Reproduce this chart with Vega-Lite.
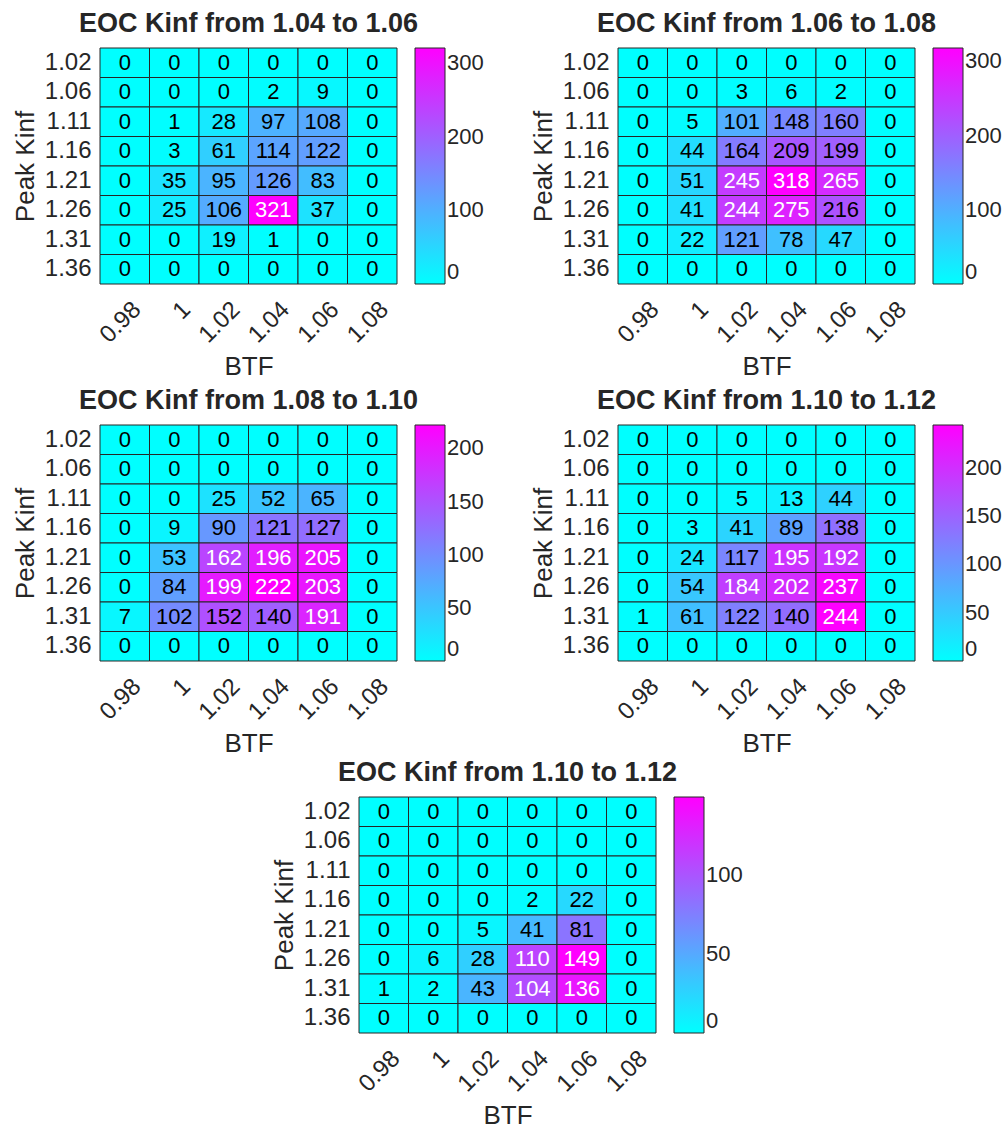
{
  "$schema": "https://vega.github.io/schema/vega-lite/v6.json",
  "padding": {"left": 12, "top": 9, "right": 0, "bottom": 0},
  "background": "white",
  "config": {
    "view": {"stroke": null},
    "scale": {"bandPaddingInner": 0, "bandPaddingOuter": 0},
    "axis": {"domain": false, "ticks": false, "labelFont": "Liberation Sans", "labelFontSize": 24, "labelColor": "#262626", "titleFont": "Liberation Sans", "titleFontSize": 26, "titleFontWeight": "normal", "titleColor": "#262626"},
    "axisX": {"labelAngle": -45, "labelAlign": "right", "labelBaseline": "top", "labelPadding": 13, "labelOffset": 4, "titlePadding": 6},
    "axisY": {"labelPadding": 9, "titlePadding": 6},
    "legend": {"gradientLength": 236, "gradientThickness": 30, "gradientStrokeColor": "#262626", "gradientStrokeWidth": 1, "labelFont": "Liberation Sans", "labelFontSize": 22, "labelColor": "#262626", "offset": 18, "labelOffset": 12, "labelBaseline": "middle", "title": null},
    "title": {"font": "Liberation Sans", "fontSize": 27, "fontWeight": "bold", "color": "#262626", "anchor": "middle", "frame": "group", "offset": 10}
  },
  "data": {"values": [
    {"p":1,"k":"1.02","btf":"0.98","v":0},{"p":1,"k":"1.02","btf":"1","v":0},{"p":1,"k":"1.02","btf":"1.02","v":0},{"p":1,"k":"1.02","btf":"1.04","v":0},{"p":1,"k":"1.02","btf":"1.06","v":0},{"p":1,"k":"1.02","btf":"1.08","v":0},
    {"p":1,"k":"1.06","btf":"0.98","v":0},{"p":1,"k":"1.06","btf":"1","v":0},{"p":1,"k":"1.06","btf":"1.02","v":0},{"p":1,"k":"1.06","btf":"1.04","v":2},{"p":1,"k":"1.06","btf":"1.06","v":9},{"p":1,"k":"1.06","btf":"1.08","v":0},
    {"p":1,"k":"1.11","btf":"0.98","v":0},{"p":1,"k":"1.11","btf":"1","v":1},{"p":1,"k":"1.11","btf":"1.02","v":28},{"p":1,"k":"1.11","btf":"1.04","v":97},{"p":1,"k":"1.11","btf":"1.06","v":108},{"p":1,"k":"1.11","btf":"1.08","v":0},
    {"p":1,"k":"1.16","btf":"0.98","v":0},{"p":1,"k":"1.16","btf":"1","v":3},{"p":1,"k":"1.16","btf":"1.02","v":61},{"p":1,"k":"1.16","btf":"1.04","v":114},{"p":1,"k":"1.16","btf":"1.06","v":122},{"p":1,"k":"1.16","btf":"1.08","v":0},
    {"p":1,"k":"1.21","btf":"0.98","v":0},{"p":1,"k":"1.21","btf":"1","v":35},{"p":1,"k":"1.21","btf":"1.02","v":95},{"p":1,"k":"1.21","btf":"1.04","v":126},{"p":1,"k":"1.21","btf":"1.06","v":83},{"p":1,"k":"1.21","btf":"1.08","v":0},
    {"p":1,"k":"1.26","btf":"0.98","v":0},{"p":1,"k":"1.26","btf":"1","v":25},{"p":1,"k":"1.26","btf":"1.02","v":106},{"p":1,"k":"1.26","btf":"1.04","v":321},{"p":1,"k":"1.26","btf":"1.06","v":37},{"p":1,"k":"1.26","btf":"1.08","v":0},
    {"p":1,"k":"1.31","btf":"0.98","v":0},{"p":1,"k":"1.31","btf":"1","v":0},{"p":1,"k":"1.31","btf":"1.02","v":19},{"p":1,"k":"1.31","btf":"1.04","v":1},{"p":1,"k":"1.31","btf":"1.06","v":0},{"p":1,"k":"1.31","btf":"1.08","v":0},
    {"p":1,"k":"1.36","btf":"0.98","v":0},{"p":1,"k":"1.36","btf":"1","v":0},{"p":1,"k":"1.36","btf":"1.02","v":0},{"p":1,"k":"1.36","btf":"1.04","v":0},{"p":1,"k":"1.36","btf":"1.06","v":0},{"p":1,"k":"1.36","btf":"1.08","v":0},

    {"p":2,"k":"1.02","btf":"0.98","v":0},{"p":2,"k":"1.02","btf":"1","v":0},{"p":2,"k":"1.02","btf":"1.02","v":0},{"p":2,"k":"1.02","btf":"1.04","v":0},{"p":2,"k":"1.02","btf":"1.06","v":0},{"p":2,"k":"1.02","btf":"1.08","v":0},
    {"p":2,"k":"1.06","btf":"0.98","v":0},{"p":2,"k":"1.06","btf":"1","v":0},{"p":2,"k":"1.06","btf":"1.02","v":3},{"p":2,"k":"1.06","btf":"1.04","v":6},{"p":2,"k":"1.06","btf":"1.06","v":2},{"p":2,"k":"1.06","btf":"1.08","v":0},
    {"p":2,"k":"1.11","btf":"0.98","v":0},{"p":2,"k":"1.11","btf":"1","v":5},{"p":2,"k":"1.11","btf":"1.02","v":101},{"p":2,"k":"1.11","btf":"1.04","v":148},{"p":2,"k":"1.11","btf":"1.06","v":160},{"p":2,"k":"1.11","btf":"1.08","v":0},
    {"p":2,"k":"1.16","btf":"0.98","v":0},{"p":2,"k":"1.16","btf":"1","v":44},{"p":2,"k":"1.16","btf":"1.02","v":164},{"p":2,"k":"1.16","btf":"1.04","v":209},{"p":2,"k":"1.16","btf":"1.06","v":199},{"p":2,"k":"1.16","btf":"1.08","v":0},
    {"p":2,"k":"1.21","btf":"0.98","v":0},{"p":2,"k":"1.21","btf":"1","v":51},{"p":2,"k":"1.21","btf":"1.02","v":245},{"p":2,"k":"1.21","btf":"1.04","v":318},{"p":2,"k":"1.21","btf":"1.06","v":265},{"p":2,"k":"1.21","btf":"1.08","v":0},
    {"p":2,"k":"1.26","btf":"0.98","v":0},{"p":2,"k":"1.26","btf":"1","v":41},{"p":2,"k":"1.26","btf":"1.02","v":244},{"p":2,"k":"1.26","btf":"1.04","v":275},{"p":2,"k":"1.26","btf":"1.06","v":216},{"p":2,"k":"1.26","btf":"1.08","v":0},
    {"p":2,"k":"1.31","btf":"0.98","v":0},{"p":2,"k":"1.31","btf":"1","v":22},{"p":2,"k":"1.31","btf":"1.02","v":121},{"p":2,"k":"1.31","btf":"1.04","v":78},{"p":2,"k":"1.31","btf":"1.06","v":47},{"p":2,"k":"1.31","btf":"1.08","v":0},
    {"p":2,"k":"1.36","btf":"0.98","v":0},{"p":2,"k":"1.36","btf":"1","v":0},{"p":2,"k":"1.36","btf":"1.02","v":0},{"p":2,"k":"1.36","btf":"1.04","v":0},{"p":2,"k":"1.36","btf":"1.06","v":0},{"p":2,"k":"1.36","btf":"1.08","v":0},

    {"p":3,"k":"1.02","btf":"0.98","v":0},{"p":3,"k":"1.02","btf":"1","v":0},{"p":3,"k":"1.02","btf":"1.02","v":0},{"p":3,"k":"1.02","btf":"1.04","v":0},{"p":3,"k":"1.02","btf":"1.06","v":0},{"p":3,"k":"1.02","btf":"1.08","v":0},
    {"p":3,"k":"1.06","btf":"0.98","v":0},{"p":3,"k":"1.06","btf":"1","v":0},{"p":3,"k":"1.06","btf":"1.02","v":0},{"p":3,"k":"1.06","btf":"1.04","v":0},{"p":3,"k":"1.06","btf":"1.06","v":0},{"p":3,"k":"1.06","btf":"1.08","v":0},
    {"p":3,"k":"1.11","btf":"0.98","v":0},{"p":3,"k":"1.11","btf":"1","v":0},{"p":3,"k":"1.11","btf":"1.02","v":25},{"p":3,"k":"1.11","btf":"1.04","v":52},{"p":3,"k":"1.11","btf":"1.06","v":65},{"p":3,"k":"1.11","btf":"1.08","v":0},
    {"p":3,"k":"1.16","btf":"0.98","v":0},{"p":3,"k":"1.16","btf":"1","v":9},{"p":3,"k":"1.16","btf":"1.02","v":90},{"p":3,"k":"1.16","btf":"1.04","v":121},{"p":3,"k":"1.16","btf":"1.06","v":127},{"p":3,"k":"1.16","btf":"1.08","v":0},
    {"p":3,"k":"1.21","btf":"0.98","v":0},{"p":3,"k":"1.21","btf":"1","v":53},{"p":3,"k":"1.21","btf":"1.02","v":162},{"p":3,"k":"1.21","btf":"1.04","v":196},{"p":3,"k":"1.21","btf":"1.06","v":205},{"p":3,"k":"1.21","btf":"1.08","v":0},
    {"p":3,"k":"1.26","btf":"0.98","v":0},{"p":3,"k":"1.26","btf":"1","v":84},{"p":3,"k":"1.26","btf":"1.02","v":199},{"p":3,"k":"1.26","btf":"1.04","v":222},{"p":3,"k":"1.26","btf":"1.06","v":203},{"p":3,"k":"1.26","btf":"1.08","v":0},
    {"p":3,"k":"1.31","btf":"0.98","v":7},{"p":3,"k":"1.31","btf":"1","v":102},{"p":3,"k":"1.31","btf":"1.02","v":152},{"p":3,"k":"1.31","btf":"1.04","v":140},{"p":3,"k":"1.31","btf":"1.06","v":191},{"p":3,"k":"1.31","btf":"1.08","v":0},
    {"p":3,"k":"1.36","btf":"0.98","v":0},{"p":3,"k":"1.36","btf":"1","v":0},{"p":3,"k":"1.36","btf":"1.02","v":0},{"p":3,"k":"1.36","btf":"1.04","v":0},{"p":3,"k":"1.36","btf":"1.06","v":0},{"p":3,"k":"1.36","btf":"1.08","v":0},

    {"p":4,"k":"1.02","btf":"0.98","v":0},{"p":4,"k":"1.02","btf":"1","v":0},{"p":4,"k":"1.02","btf":"1.02","v":0},{"p":4,"k":"1.02","btf":"1.04","v":0},{"p":4,"k":"1.02","btf":"1.06","v":0},{"p":4,"k":"1.02","btf":"1.08","v":0},
    {"p":4,"k":"1.06","btf":"0.98","v":0},{"p":4,"k":"1.06","btf":"1","v":0},{"p":4,"k":"1.06","btf":"1.02","v":0},{"p":4,"k":"1.06","btf":"1.04","v":0},{"p":4,"k":"1.06","btf":"1.06","v":0},{"p":4,"k":"1.06","btf":"1.08","v":0},
    {"p":4,"k":"1.11","btf":"0.98","v":0},{"p":4,"k":"1.11","btf":"1","v":0},{"p":4,"k":"1.11","btf":"1.02","v":5},{"p":4,"k":"1.11","btf":"1.04","v":13},{"p":4,"k":"1.11","btf":"1.06","v":44},{"p":4,"k":"1.11","btf":"1.08","v":0},
    {"p":4,"k":"1.16","btf":"0.98","v":0},{"p":4,"k":"1.16","btf":"1","v":3},{"p":4,"k":"1.16","btf":"1.02","v":41},{"p":4,"k":"1.16","btf":"1.04","v":89},{"p":4,"k":"1.16","btf":"1.06","v":138},{"p":4,"k":"1.16","btf":"1.08","v":0},
    {"p":4,"k":"1.21","btf":"0.98","v":0},{"p":4,"k":"1.21","btf":"1","v":24},{"p":4,"k":"1.21","btf":"1.02","v":117},{"p":4,"k":"1.21","btf":"1.04","v":195},{"p":4,"k":"1.21","btf":"1.06","v":192},{"p":4,"k":"1.21","btf":"1.08","v":0},
    {"p":4,"k":"1.26","btf":"0.98","v":0},{"p":4,"k":"1.26","btf":"1","v":54},{"p":4,"k":"1.26","btf":"1.02","v":184},{"p":4,"k":"1.26","btf":"1.04","v":202},{"p":4,"k":"1.26","btf":"1.06","v":237},{"p":4,"k":"1.26","btf":"1.08","v":0},
    {"p":4,"k":"1.31","btf":"0.98","v":1},{"p":4,"k":"1.31","btf":"1","v":61},{"p":4,"k":"1.31","btf":"1.02","v":122},{"p":4,"k":"1.31","btf":"1.04","v":140},{"p":4,"k":"1.31","btf":"1.06","v":244},{"p":4,"k":"1.31","btf":"1.08","v":0},
    {"p":4,"k":"1.36","btf":"0.98","v":0},{"p":4,"k":"1.36","btf":"1","v":0},{"p":4,"k":"1.36","btf":"1.02","v":0},{"p":4,"k":"1.36","btf":"1.04","v":0},{"p":4,"k":"1.36","btf":"1.06","v":0},{"p":4,"k":"1.36","btf":"1.08","v":0},

    {"p":5,"k":"1.02","btf":"0.98","v":0},{"p":5,"k":"1.02","btf":"1","v":0},{"p":5,"k":"1.02","btf":"1.02","v":0},{"p":5,"k":"1.02","btf":"1.04","v":0},{"p":5,"k":"1.02","btf":"1.06","v":0},{"p":5,"k":"1.02","btf":"1.08","v":0},
    {"p":5,"k":"1.06","btf":"0.98","v":0},{"p":5,"k":"1.06","btf":"1","v":0},{"p":5,"k":"1.06","btf":"1.02","v":0},{"p":5,"k":"1.06","btf":"1.04","v":0},{"p":5,"k":"1.06","btf":"1.06","v":0},{"p":5,"k":"1.06","btf":"1.08","v":0},
    {"p":5,"k":"1.11","btf":"0.98","v":0},{"p":5,"k":"1.11","btf":"1","v":0},{"p":5,"k":"1.11","btf":"1.02","v":0},{"p":5,"k":"1.11","btf":"1.04","v":0},{"p":5,"k":"1.11","btf":"1.06","v":0},{"p":5,"k":"1.11","btf":"1.08","v":0},
    {"p":5,"k":"1.16","btf":"0.98","v":0},{"p":5,"k":"1.16","btf":"1","v":0},{"p":5,"k":"1.16","btf":"1.02","v":0},{"p":5,"k":"1.16","btf":"1.04","v":2},{"p":5,"k":"1.16","btf":"1.06","v":22},{"p":5,"k":"1.16","btf":"1.08","v":0},
    {"p":5,"k":"1.21","btf":"0.98","v":0},{"p":5,"k":"1.21","btf":"1","v":0},{"p":5,"k":"1.21","btf":"1.02","v":5},{"p":5,"k":"1.21","btf":"1.04","v":41},{"p":5,"k":"1.21","btf":"1.06","v":81},{"p":5,"k":"1.21","btf":"1.08","v":0},
    {"p":5,"k":"1.26","btf":"0.98","v":0},{"p":5,"k":"1.26","btf":"1","v":6},{"p":5,"k":"1.26","btf":"1.02","v":28},{"p":5,"k":"1.26","btf":"1.04","v":110},{"p":5,"k":"1.26","btf":"1.06","v":149},{"p":5,"k":"1.26","btf":"1.08","v":0},
    {"p":5,"k":"1.31","btf":"0.98","v":1},{"p":5,"k":"1.31","btf":"1","v":2},{"p":5,"k":"1.31","btf":"1.02","v":43},{"p":5,"k":"1.31","btf":"1.04","v":104},{"p":5,"k":"1.31","btf":"1.06","v":136},{"p":5,"k":"1.31","btf":"1.08","v":0},
    {"p":5,"k":"1.36","btf":"0.98","v":0},{"p":5,"k":"1.36","btf":"1","v":0},{"p":5,"k":"1.36","btf":"1.02","v":0},{"p":5,"k":"1.36","btf":"1.04","v":0},{"p":5,"k":"1.36","btf":"1.06","v":0},{"p":5,"k":"1.36","btf":"1.08","v":0}
  ]},
  "spacing": 1,
  "center": true,
  "resolve": {"scale": {"color": "independent"}, "legend": {"color": "independent"}},
  "vconcat": [
    {
      "spacing": 6,
      "resolve": {"scale": {"color": "independent"}, "legend": {"color": "independent"}},
      "vconcat": [
        {
          "spacing": 46,
          "resolve": {"scale": {"color": "independent"}, "legend": {"color": "independent"}},
          "hconcat": [
            {
              "title": "EOC Kinf from 1.04 to 1.06",
              "width": 297, "height": 236,
              "transform": [{"filter": "datum.p == 1"}, {"joinaggregate": [{"op": "max", "field": "v", "as": "mx"}]}],
              "encoding": {
                "x": {"field": "btf", "type": "ordinal", "sort": ["0.98","1","1.02","1.04","1.06","1.08"], "title": "BTF"},
                "y": {"field": "k", "type": "ordinal", "sort": ["1.02","1.06","1.11","1.16","1.21","1.26","1.31","1.36"], "title": "Peak Kinf"}
              },
              "layer": [
                {"mark": {"type": "rect", "stroke": "#262626", "strokeWidth": 1}, "encoding": {"color": {"field": "v", "type": "quantitative", "scale": {"range": ["#00ffff", "#ff00ff"], "interpolate": "rgb", "zero": true, "nice": false}, "legend": {"values": [0, 100, 200, 300]}}}},
                {"mark": {"type": "text", "font": "Liberation Sans", "fontSize": 22}, "encoding": {"text": {"field": "v", "type": "quantitative"}, "color": {"condition": {"test": "datum.v / datum.mx > 0.69", "value": "white"}, "value": "black"}}}
              ]
            },
            {
              "title": "EOC Kinf from 1.06 to 1.08",
              "width": 297, "height": 236,
              "transform": [{"filter": "datum.p == 2"}, {"joinaggregate": [{"op": "max", "field": "v", "as": "mx"}]}],
              "encoding": {
                "x": {"field": "btf", "type": "ordinal", "sort": ["0.98","1","1.02","1.04","1.06","1.08"], "title": "BTF"},
                "y": {"field": "k", "type": "ordinal", "sort": ["1.02","1.06","1.11","1.16","1.21","1.26","1.31","1.36"], "title": "Peak Kinf"}
              },
              "layer": [
                {"mark": {"type": "rect", "stroke": "#262626", "strokeWidth": 1}, "encoding": {"color": {"field": "v", "type": "quantitative", "scale": {"range": ["#00ffff", "#ff00ff"], "interpolate": "rgb", "zero": true, "nice": false}, "legend": {"values": [0, 100, 200, 300]}}}},
                {"mark": {"type": "text", "font": "Liberation Sans", "fontSize": 22}, "encoding": {"text": {"field": "v", "type": "quantitative"}, "color": {"condition": {"test": "datum.v / datum.mx > 0.69", "value": "white"}, "value": "black"}}}
              ]
            }
          ]
        },
        {
          "spacing": 46,
          "resolve": {"scale": {"color": "independent"}, "legend": {"color": "independent"}},
          "hconcat": [
            {
              "title": "EOC Kinf from 1.08 to 1.10",
              "width": 297, "height": 236,
              "transform": [{"filter": "datum.p == 3"}, {"joinaggregate": [{"op": "max", "field": "v", "as": "mx"}]}],
              "encoding": {
                "x": {"field": "btf", "type": "ordinal", "sort": ["0.98","1","1.02","1.04","1.06","1.08"], "title": "BTF"},
                "y": {"field": "k", "type": "ordinal", "sort": ["1.02","1.06","1.11","1.16","1.21","1.26","1.31","1.36"], "title": "Peak Kinf"}
              },
              "layer": [
                {"mark": {"type": "rect", "stroke": "#262626", "strokeWidth": 1}, "encoding": {"color": {"field": "v", "type": "quantitative", "scale": {"range": ["#00ffff", "#ff00ff"], "interpolate": "rgb", "zero": true, "nice": false}, "legend": {"values": [0, 50, 100, 150, 200]}}}},
                {"mark": {"type": "text", "font": "Liberation Sans", "fontSize": 22}, "encoding": {"text": {"field": "v", "type": "quantitative"}, "color": {"condition": {"test": "datum.v / datum.mx > 0.69", "value": "white"}, "value": "black"}}}
              ]
            },
            {
              "title": "EOC Kinf from 1.10 to 1.12",
              "width": 297, "height": 236,
              "transform": [{"filter": "datum.p == 4"}, {"joinaggregate": [{"op": "max", "field": "v", "as": "mx"}]}],
              "encoding": {
                "x": {"field": "btf", "type": "ordinal", "sort": ["0.98","1","1.02","1.04","1.06","1.08"], "title": "BTF"},
                "y": {"field": "k", "type": "ordinal", "sort": ["1.02","1.06","1.11","1.16","1.21","1.26","1.31","1.36"], "title": "Peak Kinf"}
              },
              "layer": [
                {"mark": {"type": "rect", "stroke": "#262626", "strokeWidth": 1}, "encoding": {"color": {"field": "v", "type": "quantitative", "scale": {"range": ["#00ffff", "#ff00ff"], "interpolate": "rgb", "zero": true, "nice": false}, "legend": {"values": [0, 50, 100, 150, 200]}}}},
                {"mark": {"type": "text", "font": "Liberation Sans", "fontSize": 22}, "encoding": {"text": {"field": "v", "type": "quantitative"}, "color": {"condition": {"test": "datum.v / datum.mx > 0.69", "value": "white"}, "value": "black"}}}
              ]
            }
          ]
        }
      ]
    },
    {
      "title": "EOC Kinf from 1.10 to 1.12",
      "width": 297, "height": 236,
      "transform": [{"filter": "datum.p == 5"}, {"joinaggregate": [{"op": "max", "field": "v", "as": "mx"}]}],
      "encoding": {
        "x": {"field": "btf", "type": "ordinal", "sort": ["0.98","1","1.02","1.04","1.06","1.08"], "title": "BTF"},
        "y": {"field": "k", "type": "ordinal", "sort": ["1.02","1.06","1.11","1.16","1.21","1.26","1.31","1.36"], "title": "Peak Kinf"}
      },
      "layer": [
        {"mark": {"type": "rect", "stroke": "#262626", "strokeWidth": 1}, "encoding": {"color": {"field": "v", "type": "quantitative", "scale": {"range": ["#00ffff", "#ff00ff"], "interpolate": "rgb", "zero": true, "nice": false}, "legend": {"values": [0, 50, 100]}}}},
        {"mark": {"type": "text", "font": "Liberation Sans", "fontSize": 22}, "encoding": {"text": {"field": "v", "type": "quantitative"}, "color": {"condition": {"test": "datum.v / datum.mx > 0.69", "value": "white"}, "value": "black"}}}
      ]
    }
  ]
}
